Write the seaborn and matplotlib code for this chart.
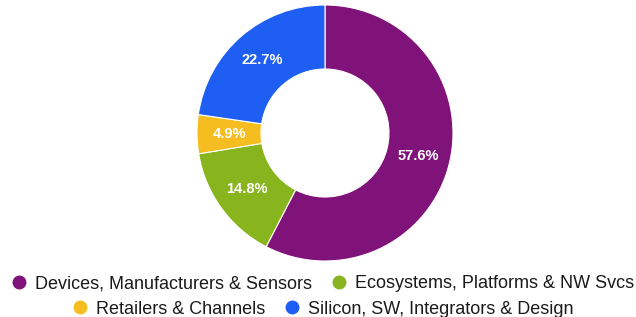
import matplotlib.pyplot as plt
import seaborn as sns
from matplotlib.lines import Line2D

segments = ["Devices, Manufacturers & Sensors", "Ecosystems, Platforms & NW Svcs",
            "Retailers & Channels", "Silicon, SW, Integrators & Design"]
shares = [57.6, 14.8, 4.9, 22.7]
colors = ["#80137A", "#88B41E", "#F5BD1F", "#1F5EF2"]

sns.set_theme(style="white")
plt.rcParams['font.family'] = ['Liberation Sans', 'DejaVu Sans']

fig = plt.figure(figsize=(6.36, 3.17), dpi=100)
# donut: centre (325,133) px, radius 128 px
ax = fig.add_axes([(325 - 128) / 636, (317 - 261) / 317, 256 / 636, 256 / 317])
wedges, texts, autotexts = ax.pie(
    shares, colors=colors, startangle=90, counterclock=False,
    autopct=lambda p: f"{p:.1f}%", pctdistance=0.75, radius=1,
    wedgeprops=dict(width=0.5, edgecolor="white", linewidth=0.8),
    textprops=dict(color="white", fontsize=10.5, fontweight="bold"))
ax.set_xlim(-1, 1)
ax.set_ylim(-1, 1)
ax.axis("off")


def handle(c):
    return Line2D([], [], marker="o", linestyle="", markersize=9,
                  markerfacecolor=c, markeredgecolor=c)


rows = [(0, 2, 1 - 284 / 317), (2, 4, 1 - 309 / 317)]
for a, b, y in rows:
    leg = fig.legend([handle(c) for c in colors[a:b]], segments[a:b],
                     loc="center", bbox_to_anchor=(0.508, y), ncol=2,
                     frameon=False, fontsize=13, handlelength=0.8,
                     handletextpad=0.5, columnspacing=1.1,
                     borderpad=0, borderaxespad=0)
    for t in leg.get_texts():
        t.set_color("#1a1a1a")

fig.savefig("out.png", dpi=100)
